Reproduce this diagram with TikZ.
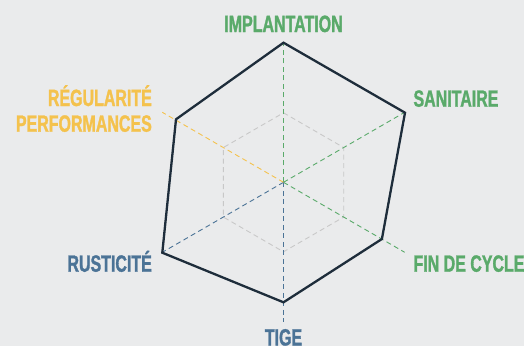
\documentclass[tikz,border=0pt]{standalone}
\usepackage{fontspec}
\newfontfamily\labfont[FakeStretch=0.68,FakeBold=1.3]{Liberation Sans Bold}
\definecolor{bgc}{HTML}{EAEBEC}
\definecolor{grn}{HTML}{5AAA6A}
\definecolor{blu}{HTML}{4B7396}
\definecolor{ylw}{HTML}{F4C24D}
\definecolor{drk}{HTML}{1E2D3B}
\definecolor{gry}{HTML}{C8C8C8}
\begin{document}
\begin{tikzpicture}[x=1pt,y=-1pt,
  axis/.style={line width=0.9pt,dash pattern=on 5pt off 3.5pt},
  lab/.style={font=\labfont\fontsize{23.5}{26}\selectfont,inner sep=0pt,anchor=base}]
\fill[bgc] (0,0) rectangle (524,346);
\useasboundingbox (0,0) rectangle (524,346);
% centre and axis ends (r = 140)
\coordinate (O) at (283.5,182.3);
\path (O) ++(0,-140) coordinate (T)
      (O) ++(121.2,-70) coordinate (UR)
      (O) ++(121.2,70) coordinate (LR)
      (O) ++(0,140) coordinate (B)
      (O) ++(-121.2,70) coordinate (LL)
      (O) ++(-121.2,-70) coordinate (UL);
% grey inner hexagon (r = 69.5)
\path (O) ++(0,-69.5) coordinate (g1)
      (O) ++(60.2,-34.75) coordinate (g2)
      (O) ++(60.2,34.75) coordinate (g3)
      (O) ++(0,69.5) coordinate (g4)
      (O) ++(-60.2,34.75) coordinate (g5)
      (O) ++(-60.2,-34.75) coordinate (g6);
\draw[gry,axis] (g1)--(g2)--(g3)--(g4)--(g5)--(g6)--cycle;
% axes
\draw[grn,axis] (O)--(T);
\draw[grn,axis] (O)--(UR);
\draw[grn,axis] (O)--(LR);
\draw[blu,axis] (O)--(B);
\draw[blu,axis] (O)--(LL);
\draw[ylw,axis] (O)--(UL);
% data polygon
\path (O) ++(0,-139.6) coordinate (p1)
      (O) ++(121.5,-69.6) coordinate (p2)
      (O) ++(98.4,56.7) coordinate (p3)
      (O) ++(0,120) coordinate (p4)
      (O) ++(-121.2,70.4) coordinate (p5)
      (O) ++(-107.5,-63) coordinate (p6);
\draw[drk,line width=2.3pt,line join=miter] (p1)--(p2)--(p3)--(p4)--(p5)--(p6)--cycle;
% labels
\node[lab,grn] (limp) at (283.5,32) {IMPLANTATION};
\node[lab,grn,anchor=base west] (lsan) at (413.3,106.7) {SANITAIRE};
\node[lab,grn,anchor=base west] (lfin) at (413.3,271.7) {FIN DE CYCLE};
\node[lab,ylw,anchor=base east] (lreg) at (152,106) {RÉGULARITÉ};
\node[lab,ylw,anchor=base east] (lper) at (152,131.7) {PERFORMANCES};
\node[lab,blu,anchor=base east] (lrus) at (152,271.7) {RUSTICITÉ};
\node[lab,blu] (ltig) at (283.5,345.5) {TIGE};
\end{tikzpicture}
\end{document}
